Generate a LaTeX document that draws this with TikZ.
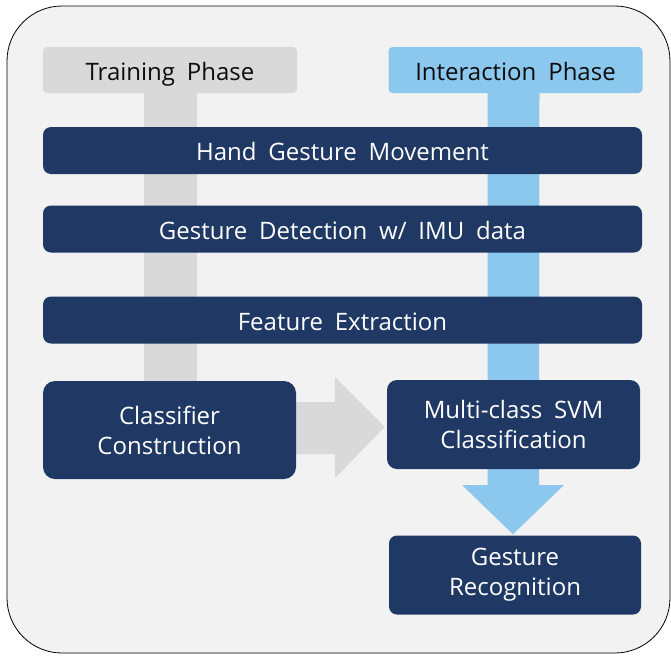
\documentclass[tikz,border=0pt]{standalone}
\usepackage{fontspec}
\setmainfont[WordSpace=1.9]{Open Sans}
\usetikzlibrary{calc, positioning}
\definecolor{navy}{RGB}{31,56,100}
\definecolor{panel}{RGB}{242,242,242}
\definecolor{traingray}{RGB}{217,217,217}
\definecolor{skyblue}{RGB}{140,199,238}
\pgfdeclarelayer{back}
\pgfdeclarelayer{arrows}
\pgfsetlayers{back,arrows,main}
\tikzset{
    phase/.style={rounded corners=4pt, minimum width=254pt, minimum height=46pt,
        text height=20pt, text depth=0pt,
        font=\fontsize{24}{30}\selectfont, text=black!95},
    stage/.style={fill=navy, rounded corners=8pt, text=white, align=center,
        font=\fontsize{24}{30}\selectfont},
    wide/.style={stage, minimum width=599pt, minimum height=47pt,
        text height=20pt, text depth=0pt},
    half/.style={stage, minimum width=253pt}
}

\begin{document}
\begin{tikzpicture}[x=1pt, y=-1pt]
            \useasboundingbox (0,0) rectangle (671,656);
            \begin{pgfonlayer}{back}
                \draw[fill=panel, line width=0.8pt, rounded corners=55pt] (7,6) rectangle (670,653);
            \end{pgfonlayer}
            % phase headers
            \node[phase, fill=traingray] (train) at (170,70) {Training Phase};
            \node[phase, fill=skyblue] (inter) at (515.5,70) {Interaction Phase};
            % shared stages
            \node[wide] (hand) at (342.5,150.5) {Hand Gesture Movement};
            \node[wide] (detect) at (342.5,229) {Gesture Detection w/ IMU data};
            \node[wide] (feature) at (342.5,320) {Feature Extraction};
            % phase specific stages
            \node[half, minimum height=98pt, rounded corners=12pt] (classify) at (169.5,430) {Classifier\\Construction};
            \node[half, minimum height=89pt, rounded corners=10pt] (svm) at (513.5,424.5) {Multi-class SVM\\Classification};
            \node[half, minimum width=252pt, minimum height=79pt] (recog) at (515,575) {Gesture\\Recognition};
            % block arrows
            \begin{pgfonlayer}{arrows}
                \fill[traingray] ($(train.south)+(-26,0)$) rectangle ($(classify.north)+(27,4)$);
                \fill[skyblue] ($(inter.south)+(-28,0)$) -- ($(inter.south)+(24,0)$)
                    -- (539,485) -- (564,485) -- ($(recog.north)+(-2,-1)$)
                    -- (462,485) -- (487.5,485) -- cycle;
                \fill[traingray] ($(classify.east)+(-4,-28)$) -- (335,402) -- (335,377)
                    -- ($(svm.west)+(-2,2.5)$) -- (335,478) -- (335,454)
                    -- ($(classify.east)+(-4,24)$) -- cycle;
            \end{pgfonlayer}
        \end{tikzpicture}
\end{document}
